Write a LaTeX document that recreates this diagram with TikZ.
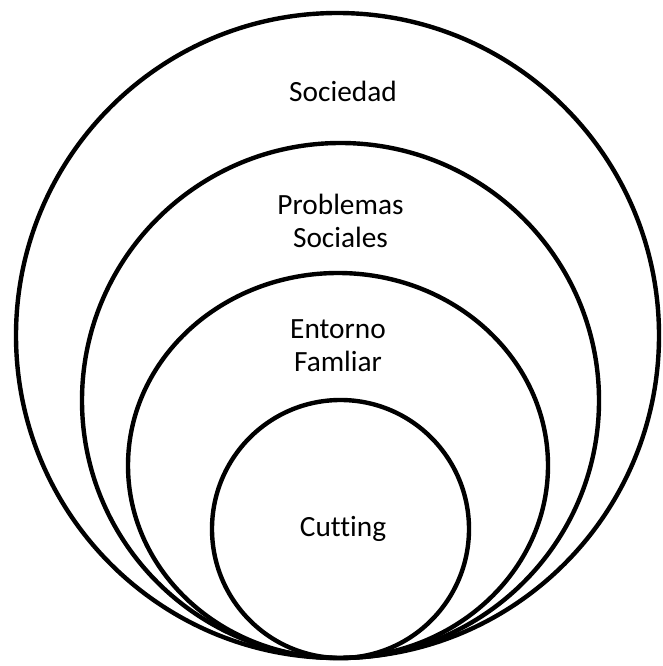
\documentclass[tikz,border=0pt]{standalone}
\usepackage{fontspec}
\setmainfont{Carlito}[Ligatures=CommonOff]
\tikzset{
  ring/.style={line width=3.3pt},
  lbl/.style={font=\fontsize{22}{25}\selectfont, align=center, inner sep=0pt}
}
\begin{document}
\begin{tikzpicture}[x=0.75pt,y=-0.75pt]
  \useasboundingbox (0,0) rectangle (662,666);
  % rings, all touching at the bottom
  \draw[ring] (337.5,335.5) ellipse (321.5 and 322.5);
  \draw[ring] (340.5,400.5) ellipse (258.5 and 257.5);
  \draw[ring] (338,465.5) ellipse (210 and 192.5);
  \draw[ring] (340.5,529) ellipse (128.5 and 129);
  % labels
  \node[lbl, anchor=base] (soc) at (343,102) {Sociedad};
  \node[lbl] (prob) at (340.5,221) {Problemas\\Sociales};
  \node[lbl] (ent) at (338,346) {Entorno\\Famliar};
  \node[lbl, anchor=base] (cut) at (343,536) {Cutting};
\end{tikzpicture}
\end{document}
